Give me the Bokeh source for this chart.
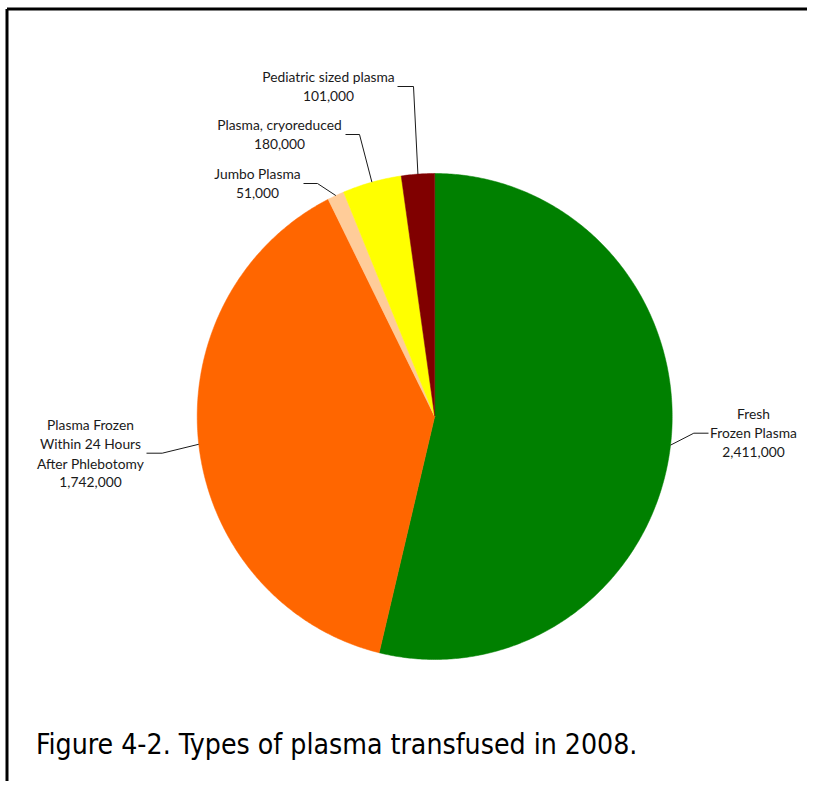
import math
from bokeh.plotting import figure
from bokeh.models import Range1d
from bokeh.core.properties import value
from bokeh.embed import file_html
from bokeh.resources import INLINE

# ---------------- data ----------------
categories = ["Fresh Frozen Plasma",
              "Plasma Frozen Within 24 Hours After Phlebotomy",
              "Jumbo Plasma",
              "Plasma, cryoreduced",
              "Pediatric sized plasma"]
label_lines = [["Fresh", "Frozen Plasma"],
               ["Plasma Frozen", "Within 24 Hours", "After Phlebotomy"],
               ["Jumbo Plasma"],
               ["Plasma, cryoreduced"],
               ["Pediatric sized plasma"]]
values = [2411000, 1742000, 51000, 180000, 101000]
colors = ["#008000", "#FF6600", "#FFCC99", "#FFFF00", "#800000"]
title_text = "Figure 4-2. Types of plasma transfused in 2008."

# ---------------- layout (page pixel coordinates) ----------------
CX, CY, RX, RY = 434.2, 416.0, 237.5, 243.0
label_pos = [(753, 413), (90, 424), (257, 172.7), (279, 124), (328, 75.7)]
leader_tail = [(708, 432.7), (146, 452.7), (303, 183), (345, 134), (397, 86)]
leader_elbow = [(693.3, 432.7), (161.7, 452.7), (317, 183), (359, 134), (413, 86)]
LINE_H = 19.3
LABEL_FONT = "Lato"
LABEL_SIZE = "13.8px"

p = figure(width=807, height=781,
           x_range=Range1d(0, 807), y_range=Range1d(781, 0),
           output_backend="svg", toolbar_location=None,
           x_axis_type=None, y_axis_type=None, min_border=0)
p.outline_line_color = None
p.background_fill_color = "white"
p.border_fill_color = "white"

# ---------------- pie slices ----------------
total = float(sum(values))
xs, ys, mids = [], [], []
start = 0.0
for v in values:
    sweep = v / total * 360.0
    end = start + sweep
    n = max(4, int(sweep * 2))
    px, py = [CX], [CY]
    for i in range(n + 1):
        a = math.radians(start + sweep * i / n)
        px.append(CX + RX * math.sin(a))
        py.append(CY - RY * math.cos(a))
    xs.append(px)
    ys.append(py)
    mids.append(start + sweep / 2)
    start = end

p.patches(xs=xs, ys=ys, fill_color=colors, line_color=colors, line_width=0.5)

# ---------------- leader lines ----------------
lx, ly = [], []
for i, m in enumerate(mids):
    a = math.radians(m)
    ax_, ay_ = CX + RX * math.sin(a), CY - RY * math.cos(a)
    lx.append([leader_tail[i][0], leader_elbow[i][0], ax_])
    ly.append([leader_tail[i][1], leader_elbow[i][1], ay_])
p.multi_line(xs=lx, ys=ly, line_color="#1a1a1a", line_width=1)

# ---------------- labels ----------------
tx, ty, tt = [], [], []
for i, lines in enumerate(label_lines):
    all_lines = lines + [f"{values[i]:,}"]
    for j, s in enumerate(all_lines):
        tx.append(label_pos[i][0])
        ty.append(label_pos[i][1] + j * LINE_H)
        tt.append(s)
p.text(x=tx, y=ty, text=tt, text_align="center", text_baseline="middle",
       text_font=value(LABEL_FONT), text_font_size=LABEL_SIZE, text_color="#1a1a1a")

# ---------------- frame (left & top rules) ----------------
p.segment(x0=[6.5, 6.5], y0=[781, 8.5], x1=[6.5, 807], y1=[8.5, 8.5],
          line_color="black", line_width=3)

# ---------------- caption ----------------
p.text(x=[35.5], y=[744], text=[title_text], text_align="left",
       text_baseline="middle",
       text_font=value("'DejaVu Sans Condensed', Roboto, sans-serif"),
       text_font_size="28.2px", text_color="black")

open("out.html", "w").write(file_html(p, INLINE))
